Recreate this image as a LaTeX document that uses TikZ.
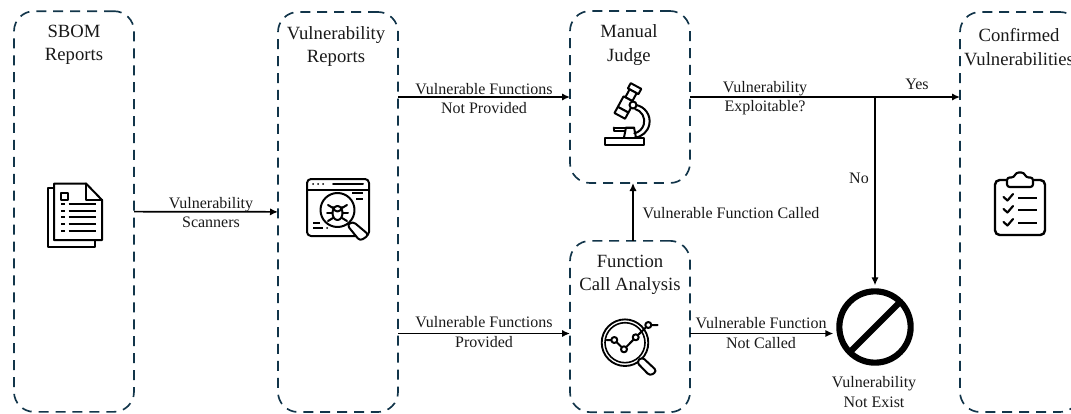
\documentclass[tikz,border=0pt]{standalone}
\usepackage{fontspec}
\usetikzlibrary{arrows.meta}
\setmainfont{Liberation Serif}
\definecolor{boxcolor}{HTML}{12354A}
\begin{document}
\begin{tikzpicture}[x=0.75pt,y=-0.75pt,
  stage/.style={draw=boxcolor,line width=1.25pt,dash pattern=on 7.5pt off 5.2pt,rounded corners=15pt,minimum width=90pt,outer sep=0pt,inner sep=0pt},
  headtext/.style={align=center,font=\fontsize{14}{17.6}\selectfont,text=black!90},
  edgetext/.style={align=center,font=\fontsize{12}{14.7}\selectfont,text=black!90},
  flow/.style={-{Latex[length=6pt,width=5.5pt]},line width=1.3pt},
  iconline/.style={line width=1.5pt,line join=round,line cap=round}]
\useasboundingbox (0,0) rectangle (1071,414);
\node[stage,minimum height=300.5pt] (sbom) at (74,211.5) {};
\node[stage,minimum height=300pt] (vulnreports) at (338,212) {};
\node[stage,minimum height=129pt] (manual) at (630,97) {};
\node[stage,minimum height=128.5pt] (funccall) at (630,326.5) {};
\node[stage,minimum height=300pt] (confirmed) at (1020,212) {};
\node[draw,circle,line width=4.6pt,minimum size=53.5pt,inner sep=0pt,outer sep=0pt] (noexist) at (875,327) {};
\draw[line width=4.6pt] (noexist.45) -- (noexist.225);
\coordinate (lowrow) at (0,333.5);
\coordinate (uprise) at (633,0);
\coordinate (split) at (875,97);
\node[headtext] (sbomhead) at (74,45) {SBOM\\Reports};
\node[headtext] (vulnhead) at (336,46.5) {Vulnerability\\Reports};
\node[headtext] (manualhead) at (629,45) {Manual\\Judge};
\node[headtext] (funchead) at (630,275) {Function\\Call Analysis};
\node[headtext] (confirmedhead) at (1019,47) {Confirmed\\Vulnerabilities};
\draw[flow] (sbom) -- (vulnreports);
\draw[flow] (vulnreports.east |- manual) -- (manual.west);
\draw[flow] (vulnreports.east |- lowrow) -- (funccall.west |- lowrow);
\draw[flow] (funccall.north -| uprise) -- (manual.south -| uprise);
\draw[flow] (funccall.east |- lowrow) -- ([xshift=-4.5pt]noexist.west |- lowrow);
\draw[line width=2.1pt] (manual.east) -- (split);
\draw[flow] (split) -- (confirmed.west |- split);
\draw[flow] (split) -- ([yshift=4.5pt]noexist.north);
\node[edgetext] (scanners) at (211,212.5) {Vulnerability\\Scanners};
\node[edgetext] (notprovided) at (484,98.5) {Vulnerable Functions\\Not Provided};
\node[edgetext] (provided) at (484,332) {Vulnerable Functions\\Provided};
\node[edgetext] (exploitable) at (765,98) {Vulnerability\\Exploitable?};
\node[edgetext] (yes) at (917,84) {Yes};
\node[edgetext] (no) at (859,178) {No};
\node[edgetext] (called) at (731,213) {Vulnerable Function Called};
\node[edgetext] (notcalled) at (761,333) {Vulnerable Function\\Not Called};
\node[edgetext] (notexist) at (874,392) {Vulnerability\\Not Exist};
\draw[iconline] (54,188) -- (47.5,188) -- (47.5,247) -- (95,247) -- (95,240);
\draw[iconline] (54,183.5) -- (86,183.5) -- (102,200) -- (102,240) -- (54,240) -- cycle;
\draw[iconline] (86,183.5) -- (86,200) -- (102,200);
\draw[iconline] (61,193) rectangle (68,200);
\foreach \y in {204,210.7,217.3,224,230.7} {
  \draw[line width=1.3pt] (61,\y) -- (64.5,\y);
  \draw[line width=1.3pt] (68.5,\y) -- (96,\y);
}
\draw[iconline,rounded corners=3pt] (307,179) rectangle (369,236);
\draw[iconline] (307,189.5) -- (369,189.5);
\foreach \x in {313,318,323} \fill (\x,184) circle (1);
\draw[iconline] (333,184) -- (363,184);
\draw[line width=1.2pt] (352,193) -- (363,193);
\draw[line width=1.2pt] (356,199) -- (363,199);
\draw[line width=1.2pt] (313,223) -- (320,223);
\draw[line width=1.2pt] (313,228) -- (323,228);
\fill (327,228) circle (1);
\draw[iconline,fill=white] (337.5,210) circle (17);
\draw[iconline,fill=white,rounded corners=2.5pt] (353,221.5) -- (347,225) -- (360,241) -- (369,235) -- cycle;
\draw[iconline] (337.5,213) ellipse (5 and 7);
\draw[iconline] (333,207) arc (180:0:4.5 and 4.5);
\draw[iconline] (332.5,213) -- (327,213) (342.5,213) -- (348,213);
\draw[iconline] (333,208) -- (328,205) (342,208) -- (347,205);
\draw[iconline] (333,218) -- (328,221) (342,218) -- (347,221);
\draw[iconline,fill=white] (605,137.5) rectangle (644,144.5);
\draw[iconline] (624,137.5) -- (626,127.5) -- (634,127.5) -- (636,137.5);
\draw[iconline] (613.5,127.5) -- (634,127.5) (613.5,127.5) -- (613.5,131) -- (624.5,131);
\draw[iconline] (636,105) arc (-80:85:16.5);
\draw[iconline] (635,109) arc (-75:78:12.5);
\begin{scope}[shift={(636,86)},rotate=-28.5]
\draw[iconline,fill=white] (-6,0) rectangle (6,6);
\draw[iconline,fill=white] (-4,6) rectangle (4,15);
\draw[iconline,fill=white] (-6,15) rectangle (6,27);
\draw[iconline,fill=white] (-6,27) rectangle (6,34);
\end{scope}
\draw[iconline,fill=white] (633,105) circle (3.5);
\draw[line width=1.4pt] (625,342.7) circle (23.3);
\draw[line width=1.2pt] (625,342.7) circle (20);
\draw[iconline,fill=white,rounded corners=2.5pt] (642,357) -- (636.5,362) -- (650,376) -- (657,371) -- cycle;
\draw[iconline] (606.7,340) -- (614.3,340) -- (624,349.3) -- (635.7,337.3) -- (648.3,325) -- (657.5,325);
\foreach \px/\py in {614.3/340,624/349.3,635.7/337.3,648.3/325}
  \draw[iconline,fill=white] (\px,\py) circle (3);
\draw[iconline,rounded corners=3.5pt,line width=1.8pt] (1007,180) -- (995,180) -- (995,235) -- (1045,235) -- (1045,180) -- (1033,180);
\draw[iconline,rounded corners=2pt,line width=1.6pt] (1007,187) -- (1007,177.5) -- (1014,177.5) -- (1016,172.5) -- (1024,172.5) -- (1026,177.5) -- (1033,177.5) -- (1033,187) -- cycle;
\foreach \y in {198,210,223} {
  \draw[iconline,line width=1.6pt] (1003.5,\y-1) -- (1007.5,\y+2.5) -- (1013,\y-4);
  \draw[line width=1.6pt] (1018,\y) -- (1037,\y);
}
\end{tikzpicture}
\end{document}
